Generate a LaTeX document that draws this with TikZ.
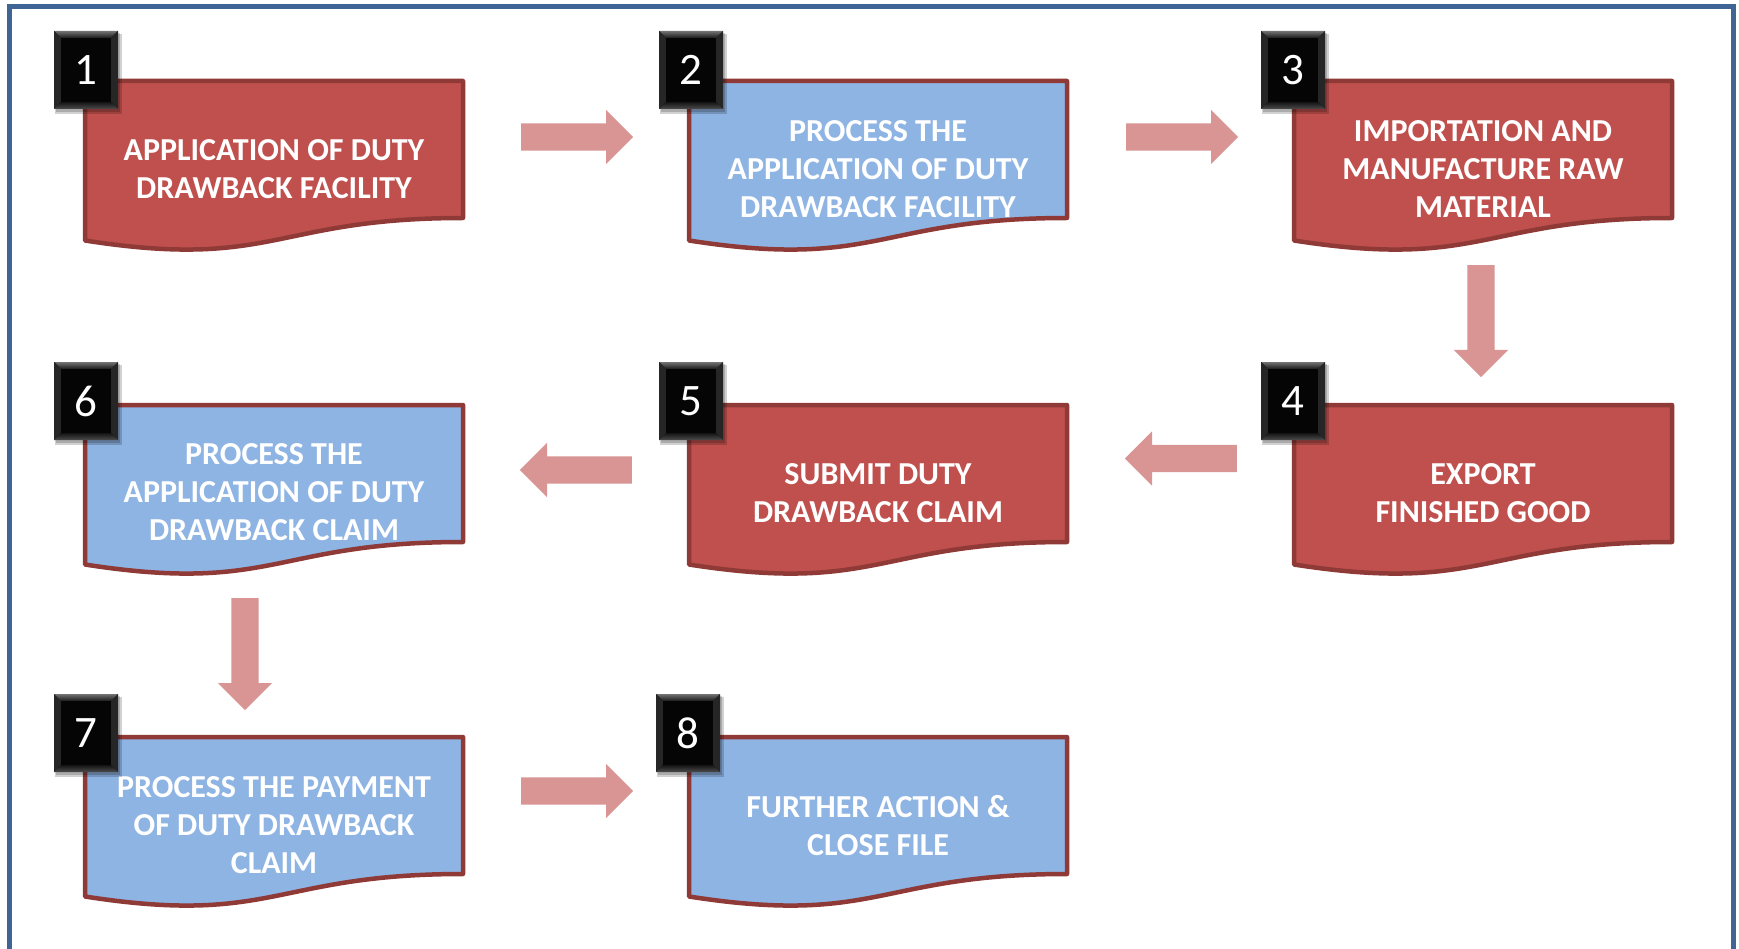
\documentclass[tikz,border=0pt]{standalone}
\usepackage{fontspec}
\setmainfont{Carlito}
\usetikzlibrary{shapes.arrows}
\definecolor{boxred}{HTML}{C0504D}
\definecolor{boxblue}{HTML}{8EB4E3}
\definecolor{edgecol}{HTML}{8F3A37}
\definecolor{arrowpink}{HTML}{D99594}
\definecolor{framecol}{HTML}{3E6596}
\tikzset{
  docbox/.style={draw=edgecol, line width=4.5pt, line join=round},
  boxtext/.style={text=white, align=center, font=\bfseries\fontsize{32}{38}\selectfont, inner sep=0pt},
  numtext/.style={text=white, font=\fontsize{45}{45}\selectfont, inner sep=0pt},
  fatarrow/.style={single arrow, fill=arrowpink, draw=none, minimum height=112pt,
    text height=13.5pt, text depth=13.5pt, text width=0pt, anchor=tail,
    single arrow head extend=13.5pt, single arrow tip angle=90, inner sep=0pt},
  framestyle/.style={draw=framecol, line width=5pt}
}
\newcommand\docshape[3]{%
  \begin{scope}[shift={(#1,#2)}]
    \filldraw[docbox, fill=#3] (2,2) -- (380,2) -- (380,139)
      .. controls (191,139) and (191,191) .. (2,161.5) -- cycle;
  \end{scope}}
\newcommand\numbadge[4]{%
  \begin{scope}[shift={(#2,#3)}]
    \fill[black, opacity=0.18] (1,3) rectangle (68,83);
    \fill[black, opacity=0.18] (2,2) rectangle (66,81);
    \fill[black!95] (0,0) rectangle (64,78);
    \shade[top color=black!55, bottom color=black!90] (0,0) -- (64,0) -- (57,7) -- (7,7) -- cycle;
    \fill[black!85] (0,0) -- (7,7) -- (7,71) -- (0,78) -- cycle;
    \fill[black!85] (64,0) -- (57,7) -- (57,71) -- (64,78) -- cycle;
    \shade[top color=black!92, bottom color=black!70] (0,78) -- (7,71) -- (57,71) -- (64,78) -- cycle;
    \fill[black!98] (7,7) rectangle (57,71);
    \node[numtext] (#1) at (32,39) {#4};
  \end{scope}}
\begin{document}
\begin{tikzpicture}[x=1pt,y=-1pt]
\useasboundingbox (0,0) rectangle (1739,949);
\fill[white] (0,0) rectangle (1739,949);
% frame
\draw[framestyle] (9.5,960) -- (9.5,6.5) -- (1733,6.5) -- (1733,960);
% boxes
\docshape{83}{79}{boxred}
\docshape{687}{79}{boxblue}
\docshape{1292}{79}{boxred}
\docshape{1292}{403}{boxred}
\docshape{687}{403}{boxred}
\docshape{83}{403}{boxblue}
\docshape{83}{735}{boxblue}
\docshape{687}{735}{boxblue}
% texts
\node[boxtext] (b1) at (274,169) {APPLICATION OF DUTY\\DRAWBACK FACILITY};
\node[boxtext] (b2) at (878,169) {PROCESS THE\\APPLICATION OF DUTY\\DRAWBACK FACILITY};
\node[boxtext] (b3) at (1483,169) {IMPORTATION AND\\MANUFACTURE RAW\\MATERIAL};
\node[boxtext] (b4) at (1483,493) {EXPORT\\FINISHED GOOD};
\node[boxtext] (b5) at (878,493) {SUBMIT DUTY\\DRAWBACK CLAIM};
\node[boxtext] (b6) at (274,492) {PROCESS THE\\APPLICATION OF DUTY\\DRAWBACK CLAIM};
\node[boxtext] (b7) at (274,825) {PROCESS THE PAYMENT\\OF DUTY DRAWBACK\\CLAIM};
\node[boxtext] (b8) at (878,826) {FURTHER ACTION \&\\CLOSE FILE};
% badges
\numbadge{n1}{54}{31}{1}
\numbadge{n2}{659}{31}{2}
\numbadge{n3}{1261}{31}{3}
\numbadge{n4}{1261}{362}{4}
\numbadge{n5}{659}{362}{5}
\numbadge{n6}{54}{362}{6}
\numbadge{n7}{54}{694}{7}
\numbadge{n8}{656}{694}{8}
% block arrows
\node[fatarrow] (a12) at (521,137) {};
\node[fatarrow] (a23) at (1126,137) {};
\node[fatarrow, rotate=-90] (a34) at (1481,265) {};
\node[fatarrow, rotate=180] (a45) at (1237,458.5) {};
\node[fatarrow, rotate=180] (a56) at (632,470) {};
\node[fatarrow, rotate=-90] (a67) at (245,598) {};
\node[fatarrow] (a78) at (521,791) {};
\end{tikzpicture}
\end{document}
